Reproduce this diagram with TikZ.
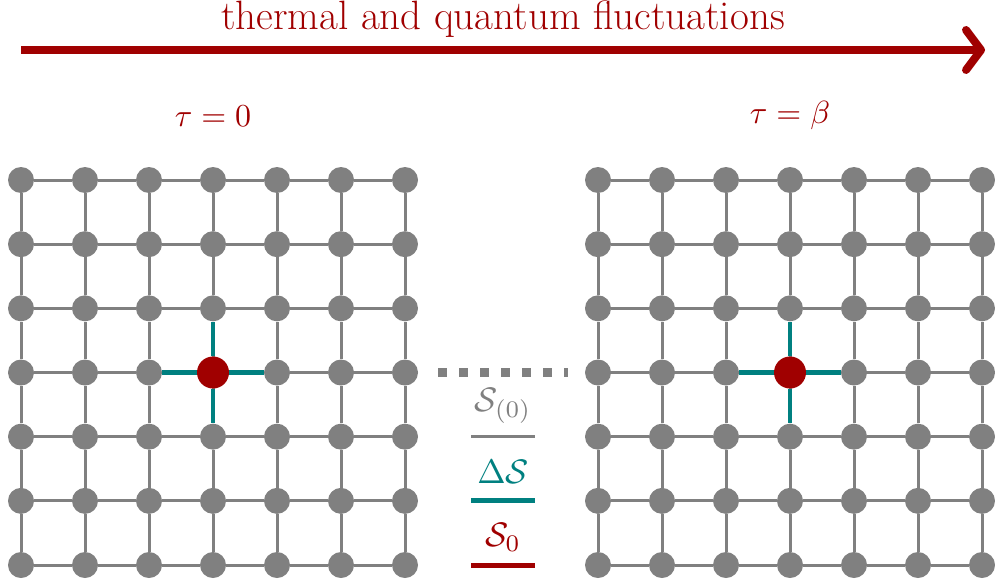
\documentclass[tikz,border=0pt]{standalone}
\usetikzlibrary{arrows.meta}
\definecolor{dred}{RGB}{160,0,0}
\definecolor{dteal}{RGB}{0,128,128}
\definecolor{mgray}{RGB}{128,128,128}
\begin{document}
\begin{tikzpicture}[x=1pt,y=-1pt,
  site/.style={circle,fill=mgray,minimum size=26pt,inner sep=0pt},
  hot/.style={circle,fill=dred,minimum size=32pt,inner sep=0pt},
  bond/.style={draw=mgray,line width=3pt},
  tbond/.style={draw=dteal,line width=4.5pt},
  lab/.style={text=dred,scale=3.2},
  leg/.style={scale=3.4},
  ttl/.style={text=dred,font=\fontsize{41}{44}\selectfont}]
\useasboundingbox (0,0) rectangle (995,583);
\clip (0,0) rectangle (995,583);
% lattices
\foreach \g/\xo in {l/21,r/598}{
  \foreach \i in {0,...,6}{
    \foreach \j in {0,...,6}{
      \node[site] (\g-\i-\j) at ({\xo+64*\j},{180+64.17*\i}) {};
    }
  }
  \foreach \i in {0,...,6}{
    \foreach \j in {0,...,5}{
      \pgfmathtruncatemacro{\jn}{\j+1}
      \draw[bond] (\g-\i-\j) -- (\g-\i-\jn);
      \draw[bond] (\g-\j-\i) -- (\g-\jn-\i);
    }
  }
  \node[hot] (\g-c) at (\g-3-3) {};
  \draw[tbond] (\g-c) -- (\g-3-2);
  \draw[tbond] (\g-c) -- (\g-3-4);
  \draw[tbond] (\g-c) -- (\g-2-3);
  \draw[tbond] (\g-c) -- (\g-4-3);
}
% labels
\node[lab] (t0) at (213,116) {$\tau=0$};
\node[lab] (tb) at (790,116) {$\tau=\beta$};
% title arrow
\node[ttl,anchor=base,inner sep=0pt] (title) at (503,30) {thermal and quantum fluctuations};
\coordinate (a0) at (21,50);
\coordinate (a1) at (985,50);
\draw[dred,line width=8pt,-{Straight Barb[length=15pt,width=40pt,line cap=round,line join=round]}] (a0) -- (a1);
% dotted link
\coordinate (d0) at (438,372);
\coordinate (d1) at (568,372);
\draw[mgray,line width=9pt,dash pattern=on 9pt off 12pt] (d0) -- (d1);
% legend
\node[leg,text=mgray] (s0) at (503,406) {$\mathcal{S}_{(0)}$};
\coordinate (g0) at (471,436); \coordinate (g1) at (535,436);
\draw[mgray,line width=3pt] (g0) -- (g1);
\node[leg,text=dteal] (ds) at (503,472) {$\Delta\mathcal{S}$};
\coordinate (e0) at (471,500); \coordinate (e1) at (535,500);
\draw[dteal,line width=5pt] (e0) -- (e1);
\node[leg,text=dred] (sz) at (503,537) {$\mathcal{S}_0$};
\coordinate (f0) at (471,565); \coordinate (f1) at (535,565);
\draw[dred,line width=5pt] (f0) -- (f1);
\end{tikzpicture}
\end{document}
